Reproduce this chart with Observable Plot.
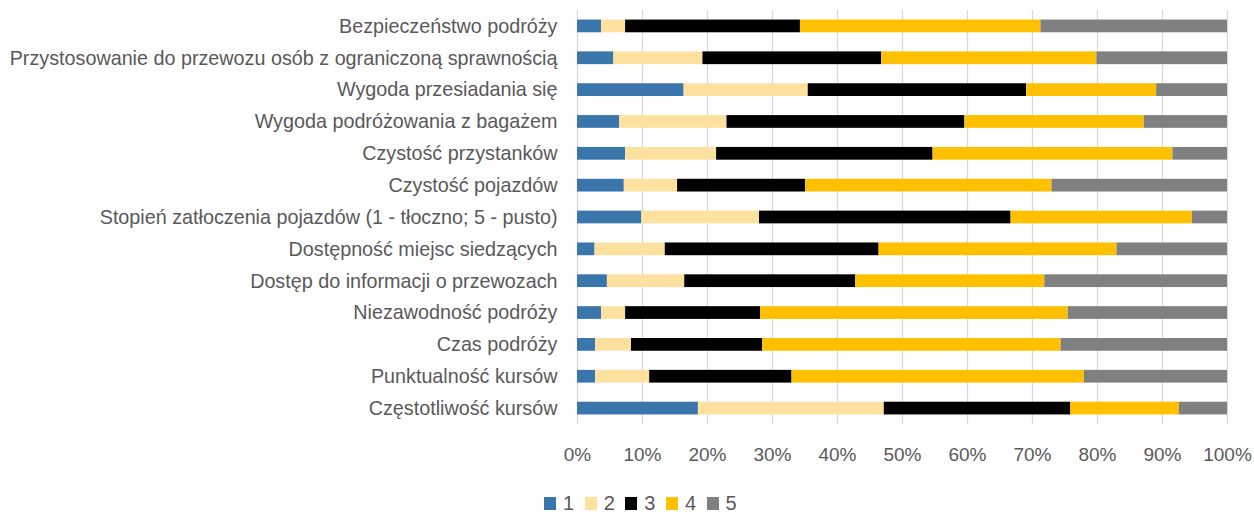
<!DOCTYPE html>
<html><head><meta charset="utf-8">
<script src="https://cdn.jsdelivr.net/npm/d3@7"></script>
<script src="https://cdn.jsdelivr.net/npm/@observablehq/plot@0.6"></script>
<style>
body{margin:0;background:#fff;font-family:"Liberation Sans",Arial,sans-serif;}
#wrap{position:relative;width:1254px;height:513px;overflow:hidden;}
#legend{position:absolute;left:544px;top:493px;display:flex;align-items:center;color:#595959;font-size:20px;line-height:20px;}
#legend .item{display:flex;align-items:center;margin-right:10.5px;}
#legend .sw{width:12px;height:13px;margin-right:7px;}
</style></head><body><div id="wrap"><div id="chart"></div><div id="legend"></div></div>
<script>
const categories = [
  "Bezpieczeństwo podróży",
  "Przystosowanie do przewozu osób z ograniczoną sprawnością",
  "Wygoda przesiadania się",
  "Wygoda podróżowania z bagażem",
  "Czystość przystanków",
  "Czystość pojazdów",
  "Stopień zatłoczenia pojazdów (1 - tłoczno; 5 - pusto)",
  "Dostępność miejsc siedzących",
  "Dostęp do informacji o przewozach",
  "Niezawodność podróży",
  "Czas podróży",
  "Punktualność kursów",
  "Częstotliwość kursów"
];
const seriesNames = ["1", "2", "3", "4", "5"];
const s1 = [3.7, 5.6, 16.4, 6.5, 7.4, 7.2, 9.9, 2.7, 4.6, 3.7, 2.8, 2.8, 18.6];
const s2 = [3.7, 13.7, 19.1, 16.5, 14.0, 8.2, 18.1, 10.8, 11.9, 3.7, 5.5, 8.3, 28.6];
const s3 = [26.9, 27.5, 33.6, 36.6, 33.3, 19.7, 38.7, 32.9, 26.3, 20.8, 20.2, 21.9, 28.7];
const s4 = [37.0, 33.1, 20.0, 27.6, 36.9, 37.9, 27.9, 36.6, 29.1, 47.3, 45.9, 45.0, 16.7];
const s5 = [28.7, 20.1, 10.9, 12.8, 8.4, 27.0, 5.4, 17.0, 28.1, 24.5, 25.6, 22.0, 7.4];
const colors = ["#3a75ab", "#ffe19f", "#000000", "#ffc000", "#808080"];

const allSeries = [s1, s2, s3, s4, s5];
const data = [];
categories.forEach((c, i) => {
  allSeries.forEach((s, j) => data.push({category: c, series: seriesNames[j], value: s[i]}));
});

const chart = Plot.plot({
  width: 1254,
  height: 470,
  marginLeft: 577,
  marginRight: 27,
  marginTop: 10,
  marginBottom: 46,
  style: {fontFamily: '"Liberation Sans", Arial, sans-serif', color: "#595959", background: "#fff"},
  x: {domain: [0, 1]},
  y: {domain: categories, paddingInner: 0.6, paddingOuter: 0.3, round: false},
  color: {domain: seriesNames, range: colors},
  marks: [
    Plot.gridX({ticks: 10, stroke: "#d9d9d9", strokeOpacity: 1, strokeWidth: 1.3}),
    Plot.barX(data, Plot.stackX({
      x: "value", y: "category", fill: "series",
      order: seriesNames, offset: "normalize"
    })),
    Plot.axisX({ticks: 10, tickSize: 0, tickPadding: 23, tickFormat: d3.format(".0%"), fontSize: 19, label: null}),
    Plot.axisY({tickSize: 0, tickPadding: 20, fontSize: 19.75, label: null})
  ]
});
document.getElementById("chart").appendChild(chart);

const legend = document.getElementById("legend");
seriesNames.forEach((n, i) => {
  const it = document.createElement("div");
  it.className = "item";
  const sw = document.createElement("div");
  sw.className = "sw";
  sw.style.background = colors[i];
  const lb = document.createElement("span");
  lb.textContent = n;
  it.appendChild(sw); it.appendChild(lb);
  legend.appendChild(it);
});
</script>
</body></html>
